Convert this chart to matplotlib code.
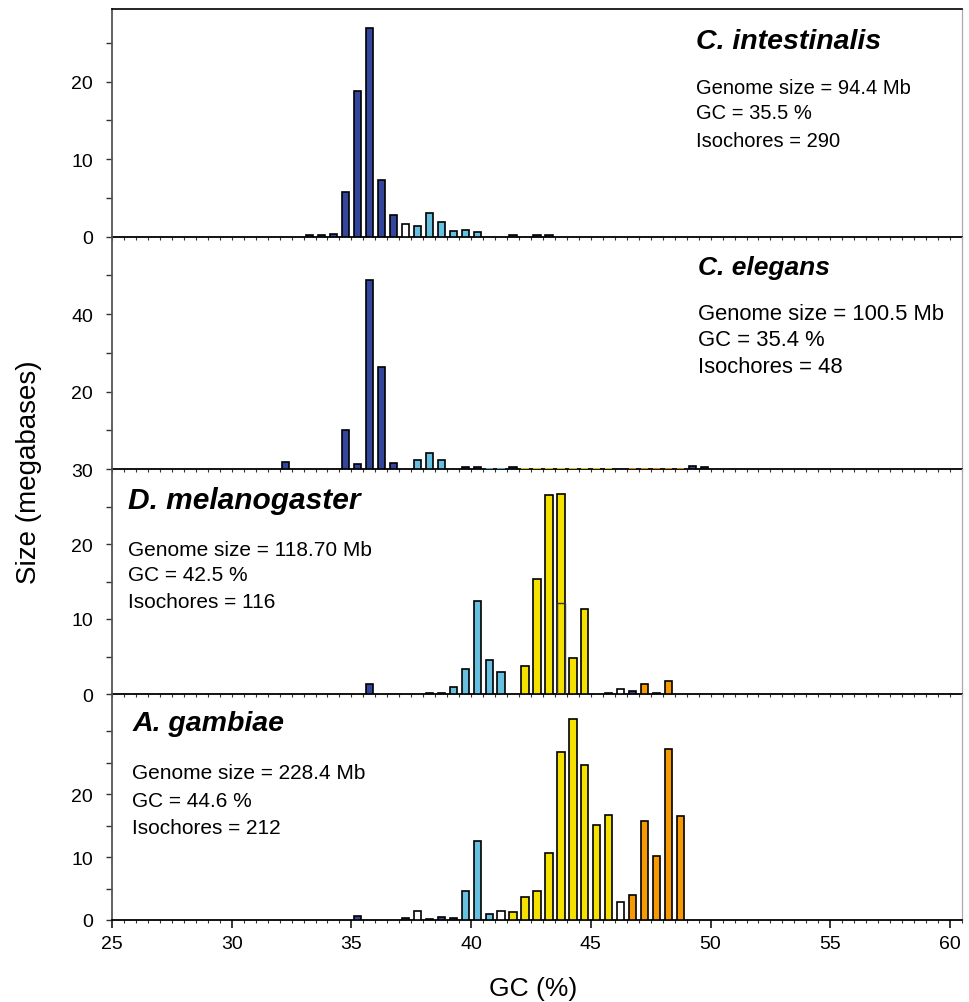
import matplotlib
matplotlib.use("Agg")
import matplotlib.pyplot as plt
from matplotlib.ticker import MultipleLocator, FixedLocator

plt.rcParams['font.family'] = ['Liberation Sans', 'DejaVu Sans']

# isochore family colours
family_colors = {'L1': '#33469c', 'L2': '#67c0e0', 'H1': '#f5e100',
                 'H2': '#f59a00', 'T': '#ffffff'}

# C. intestinalis
cint_gc = [33.25, 33.75, 34.25, 34.75, 35.25, 35.75, 36.25, 36.75, 37.25, 37.75,
           38.25, 38.75, 39.25, 39.75, 40.25, 41.75, 42.75, 43.25]
cint_size = [0.2, 0.2, 0.3, 5.8, 18.8, 26.9, 7.3, 2.8, 1.6, 1.3,
             3.1, 1.9, 0.7, 0.9, 0.55, 0.2, 0.2, 0.2]
cint_fam = ['L1', 'L1', 'L1', 'L1', 'L1', 'L1', 'L1', 'L1', 'T', 'L2',
            'L2', 'L2', 'L2', 'L2', 'L2', 'L1', 'L1', 'L1']

# C. elegans
cele_gc = [32.25, 34.75, 35.25, 35.75, 36.25, 36.75, 37.75, 38.25, 38.75, 39.75,
           40.25, 40.75, 41.25, 41.75, 42.25, 42.75, 43.25, 43.75, 44.25, 44.75,
           45.25, 45.75, 46.75, 47.25, 47.75, 48.25, 48.75, 49.25, 49.75]
cele_size = [1.8, 10.0, 1.3, 48.8, 26.4, 1.6, 2.2, 4.1, 2.2, 0.5,
             0.4, 0, 0, 0.4, 0, 0, 0, 0, 0, 0,
             0, 0, 0, 0, 0, 0, 0, 0.8, 0.4]
cele_fam = ['L1', 'L1', 'L1', 'L1', 'L1', 'L1', 'L2', 'L2', 'L2', 'L1',
            'L1', 'L2', 'L2', 'L1', 'H1', 'H1', 'H1', 'H1', 'H1', 'H1',
            'H1', 'H1', 'H2', 'H2', 'H2', 'H2', 'H2', 'L1', 'L1']

# D. melanogaster
dmel_gc = [35.75, 38.25, 38.75, 39.25, 39.75, 40.25, 40.75, 41.25, 42.25, 42.75,
           43.25, 43.75, 44.25, 44.75, 45.75, 46.25, 46.75, 47.25, 47.75, 48.25]
dmel_size = [1.4, 0.2, 0.2, 1.0, 3.3, 12.4, 4.6, 3.0, 3.7, 15.4,
             26.6, 26.7, 4.8, 11.3, 0.1, 0.7, 0.4, 1.4, 0.1, 1.8]
dmel_fam = ['L1', 'L1', 'L1', 'L2', 'L2', 'L2', 'L2', 'L2', 'H1', 'H1',
            'H1', 'H1', 'H1', 'H1', 'L1', 'T', 'L1', 'H2', 'L1', 'H2']
dmel_split_gc = [43.75]
dmel_split_size = [12.2]

# A. gambiae
agam_gc = [35.25, 37.25, 37.75, 38.25, 38.75, 39.25, 39.75, 40.25, 40.75, 41.25,
           41.75, 42.25, 42.75, 43.25, 43.75, 44.25, 44.75, 45.25, 45.75, 46.25,
           46.75, 47.25, 47.75, 48.25, 48.75]
agam_size = [0.7, 0.3, 1.4, 0.15, 0.4, 0.3, 4.6, 12.5, 0.9, 1.4,
             1.3, 3.7, 4.6, 10.7, 26.7, 31.9, 24.7, 15.1, 16.6, 2.9,
             4.0, 15.7, 10.1, 27.1, 16.5]
agam_fam = ['L1', 'L1', 'T', 'L1', 'L1', 'L1', 'L2', 'L2', 'L2', 'T',
            'H1', 'H1', 'H1', 'H1', 'H1', 'H1', 'H1', 'H1', 'H1', 'T',
            'H2', 'H2', 'H2', 'H2', 'H2']

species = ['C. intestinalis', 'C. elegans', 'D. melanogaster', 'A. gambiae']
genome_size = ['94.4', '100.5', '118.70', '228.4']
genome_gc = ['35.5', '35.4', '42.5', '44.6']
isochores = ['290', '48', '116', '212']

ymax = [29.4, 60, 30, 35.9]
ytick_labels = [[0, 10, 20], [20, 40], [0, 10, 20, 30], [0, 10, 20]]
ytick_minor = [[5, 15, 25], [10, 30, 50], [5, 15, 25], [5, 15, 25, 30]]

W, H = 970, 1003
fig = plt.figure(figsize=(W / 100, H / 100), dpi=100)

# panel pixel extents (top, bottom), text anchors and sizes (collage: sizes differ)
panels = [(10, 237.5), (237.5, 470), (470, 695), (695, 921)]
text_pos = [(0.687, 0.86, [0.657, 0.543, 0.424]),
            (0.689, 0.869, [0.667, 0.555, 0.443]),
            (0.019, 0.862, [0.644, 0.529, 0.409]),
            (0.024, 0.872, [0.651, 0.527, 0.408])]
title_size = [20.5, 19, 21.5, 20.5]
body_size = [14.5, 15.8, 15, 15]

data = [(cint_gc, cint_size, cint_fam), (cele_gc, cele_size, cele_fam),
        (dmel_gc, dmel_size, dmel_fam), (agam_gc, agam_size, agam_fam)]

left, right = 112, 962
for i, (top, bot) in enumerate(panels):
    ax = fig.add_axes([left / W, 1 - bot / H, (right - left) / W, (bot - top) / H])
    gc, size, fam = data[i]
    cols = [family_colors[f] for f in fam]
    edges = ['black' if s > 0 else family_colors[f] for s, f in zip(size, fam)]
    ax.bar(gc, size, width=0.3, color=cols, edgecolor=edges, linewidth=1.2, zorder=3)
    if i == 2:
        ax.bar(dmel_split_gc, dmel_split_size, width=0.3, fill=False,
               edgecolor='#333333', linewidth=1.0, zorder=4)

    ax.set_xlim(25, 60.5)
    ax.set_ylim(0, ymax[i])

    ax.yaxis.set_major_locator(FixedLocator(ytick_labels[i]))
    ax.yaxis.set_minor_locator(FixedLocator(ytick_minor[i]))
    ax.tick_params(axis='y', which='both', direction='out', length=4.5,
                   width=1, pad=9, labelsize=14, color='#333333')

    ax.xaxis.set_minor_locator(MultipleLocator(0.5))
    if i < 3:
        ax.xaxis.set_major_locator(MultipleLocator(0.5))
        ax.tick_params(axis='x', which='both', direction='out', length=2.5,
                       width=0.8, labelbottom=False, color='#333333')
    else:
        ax.xaxis.set_major_locator(MultipleLocator(5))
        ax.tick_params(axis='x', which='major', direction='out', length=6,
                       width=1.1, labelsize=14, pad=5)
        ax.tick_params(axis='x', which='minor', direction='out', length=2.5,
                       width=0.8, color='#333333')

    ax.spines['bottom'].set_linewidth(1.3)
    ax.spines['left'].set_color('#555555')
    ax.spines['left'].set_linewidth(1.3)
    ax.spines['right'].set_color('#aaaaaa')
    ax.spines['right'].set_linewidth(0.9)
    if i == 0:
        ax.spines['top'].set_linewidth(1.2)
    else:
        ax.spines['top'].set_visible(False)
    ax.patch.set_alpha(0)

    tx, ty, ly = text_pos[i]
    ax.text(tx, ty, species[i], transform=ax.transAxes, fontsize=title_size[i],
            fontweight='bold', fontstyle='italic', va='center', ha='left')
    lines = ['Genome size = %s Mb' % genome_size[i],
             'GC = %s %%' % genome_gc[i],
             'Isochores = %s' % isochores[i]]
    for y, s in zip(ly, lines):
        ax.text(tx, y, s, transform=ax.transAxes, fontsize=body_size[i],
                va='center', ha='left')

fig.text(29 / W, 1 - 472 / H, 'Size (megabases)', rotation=90, fontsize=20,
         va='center', ha='center')
fig.text(533 / W, 1 - 989 / H, 'GC (%)', fontsize=19, va='center', ha='center')

fig.savefig('out.png', dpi=100)
